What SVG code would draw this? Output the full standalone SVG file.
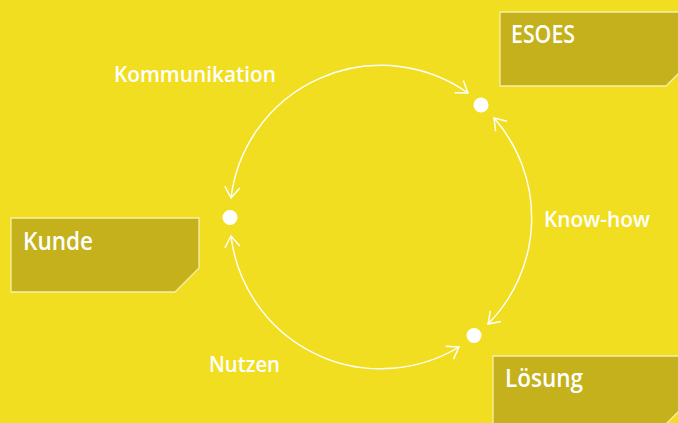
<svg xmlns="http://www.w3.org/2000/svg" width="678" height="423" viewBox="0 0 678 423">
  <style>
    .box { fill: #C4B11B; stroke: #F7EFA8; stroke-width: 1.3; }
    .boxlabel { font-family: "Open Sans", "Liberation Sans", sans-serif; font-size: 25px; font-weight: 600; fill: #FFFFFF; }
    .label { font-family: "Open Sans", "Liberation Sans", sans-serif; font-size: 21px; font-weight: 600; fill: #FFFFFF; }
    .arc { fill: none; stroke: #FFFFFF; stroke-width: 1.4; marker-start: url(#arr); marker-end: url(#arr); }
    .dot { fill: #FFFFFF; }
  </style>
  <defs>
    <marker id="arr" viewBox="-13 -9 15 18" markerWidth="15" markerHeight="18" refX="0" refY="0" markerUnits="userSpaceOnUse" orient="auto-start-reverse" overflow="visible">
      <path d="M-11,-7.5 L0,0 L-11,7.5" fill="none" stroke="#FFFFFF" stroke-width="1.4"/>
    </marker>
  </defs>
  <rect x="0" y="0" width="678" height="423" fill="#F2DE20"/>

  <g id="connectors">
    <path class="arc" d="M468,93 A151,151 0 0 0 231,198"/>
    <path class="arc" d="M494,118 A151,151 0 0 1 488,324"/>
    <path class="arc" d="M231,236 A151,151 0 0 0 459,347"/>
  </g>

  <g id="dot-kunde"><circle class="dot" cx="230" cy="217.5" r="7.5"/></g>
  <g id="dot-esoes"><circle class="dot" cx="481" cy="105" r="7.5"/></g>
  <g id="dot-loesung"><circle class="dot" cx="474" cy="335.5" r="7.5"/></g>

  <g id="node-esoes">
    <path class="box" d="M500,12 H690 V62 L666,86 H500 Z"/>
    <text class="boxlabel" x="511" y="43" textLength="64" lengthAdjust="spacingAndGlyphs">ESOES</text>
  </g>
  <g id="node-kunde">
    <path class="box" d="M11,218 H199 V268 L175,292 H11 Z"/>
    <text class="boxlabel" x="23" y="250" textLength="70" lengthAdjust="spacingAndGlyphs">Kunde</text>
  </g>
  <g id="node-loesung">
    <path class="box" d="M493,356 H684 V406 L660,430 H493 Z"/>
    <text class="boxlabel" x="505" y="387" textLength="78" lengthAdjust="spacingAndGlyphs">Lösung</text>
  </g>

  <g id="labels">
    <text class="label" x="114" y="82" textLength="162" lengthAdjust="spacingAndGlyphs">Kommunikation</text>
    <text class="label" x="544" y="227" textLength="106" lengthAdjust="spacingAndGlyphs">Know-how</text>
    <text class="label" x="209" y="372" textLength="71" lengthAdjust="spacingAndGlyphs">Nutzen</text>
  </g>
</svg>
